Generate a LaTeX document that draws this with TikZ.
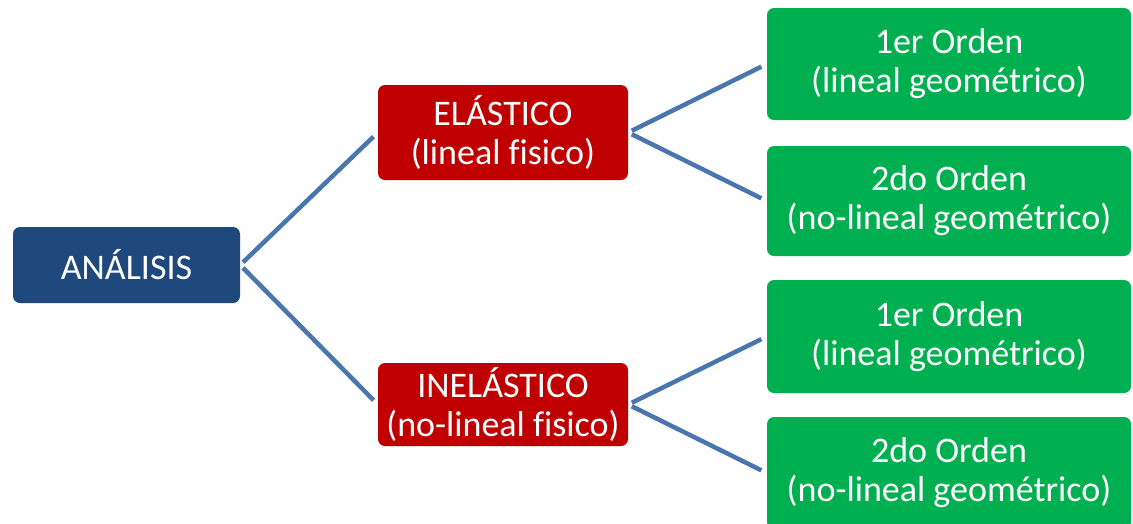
\documentclass[tikz,border=0pt]{standalone}
\usepackage{fontspec}
\setmainfont[Ligatures=NoCommon]{Carlito}
\definecolor{navy}{RGB}{31,73,125}
\definecolor{redbox}{RGB}{192,0,0}
\definecolor{greenbox}{RGB}{0,176,80}
\definecolor{link}{RGB}{74,118,176}
\begin{document}
\begin{tikzpicture}[x=1pt,y=-1pt,
  box/.style={rectangle, rounded corners=7pt, draw=none, text=white, align=center,
    inner sep=0pt, font=\fontsize{36}{39}\selectfont},
  rootbox/.style={box, fill=navy, minimum width=227pt, minimum height=76pt},
  midbox/.style={box, fill=redbox, minimum width=250pt},
  leafbox/.style={box, fill=greenbox, minimum width=364pt},
  conn/.style={draw=link, line width=4.5pt, shorten <=4pt, shorten >=6pt}]
\useasboundingbox (0,0) rectangle (1133,523);
\node[rootbox] (ana) at (126.5,265) {ANÁLISIS};
\node[midbox, minimum height=95pt] (ela) at (503,132.5) {ELÁSTICO\\(lineal fisico)};
\node[midbox, minimum height=83pt] (ine) at (503,404.5) {INELÁSTICO\\(no-lineal fisico)};
\node[leafbox, minimum height=112pt] (g1) at (949,64) {1er Orden\\(lineal geométrico)};
\node[leafbox, minimum height=110pt] (g2) at (949,201) {2do Orden\\(no-lineal geométrico)};
\node[leafbox, minimum height=113pt] (g3) at (949,336.5) {1er Orden\\(lineal geométrico)};
\node[leafbox, minimum height=112pt] (g4) at (949,473) {2do Orden\\(no-lineal geométrico)};
\draw[conn] (ana.east) -- (ela.west);
\draw[conn] (ana.east) -- (ine.west);
\draw[conn] (ela.east) -- (g1.west);
\draw[conn] (ela.east) -- (g2.west);
\draw[conn] (ine.east) -- (g3.west);
\draw[conn] (ine.east) -- (g4.west);
\end{tikzpicture}
\end{document}
